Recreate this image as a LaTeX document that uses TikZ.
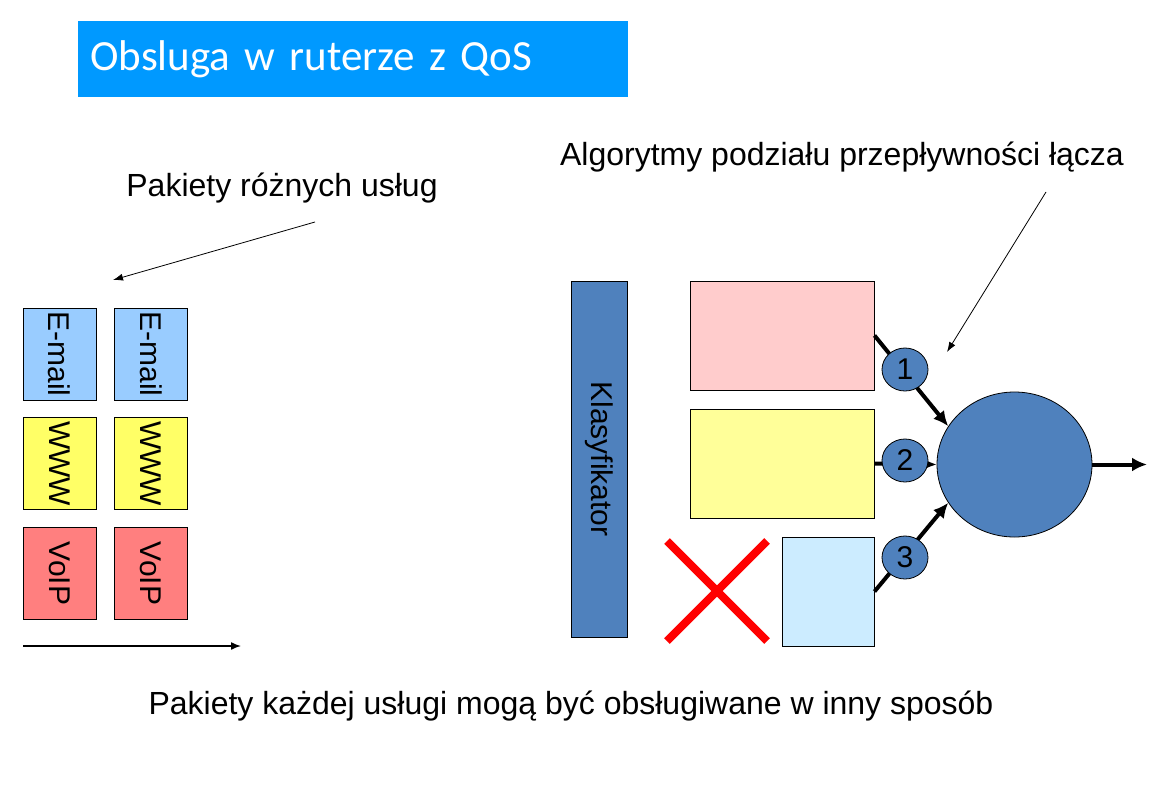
\documentclass[tikz,border=0pt]{standalone}
\usepackage{fontspec}
\setmainfont{Liberation Sans}
\newfontfamily\titlefont[WordSpace=0.8]{Carlito}
\usetikzlibrary{arrows.meta,shapes.geometric,shapes.misc}

\definecolor{titleblue}{HTML}{0099FF}
\definecolor{qosblue}{HTML}{4F81BD}
\definecolor{emailc}{HTML}{99CCFF}
\definecolor{wwwc}{HTML}{FFFF66}
\definecolor{voipc}{HTML}{FF7F7F}
\definecolor{pinkq}{HTML}{FFCCCC}
\definecolor{yellowq}{HTML}{FFFF99}
\definecolor{lightq}{HTML}{CCECFF}

\tikzset{
  pkt/.style={draw,line width=1pt,rotate=-90,minimum width=92pt,minimum height=73pt,
    inner sep=0pt,font=\fontsize{30}{32}\selectfont},
  kolejka/.style={draw,line width=1pt,inner sep=0pt,minimum height=109pt},
  waga/.style={draw,ellipse,line width=0.8pt,fill=qosblue,minimum width=46pt,
    minimum height=43pt,inner sep=0pt,font=\fontsize{30}{32}\selectfont},
  gruba/.style={line width=4pt,-{Latex[length=15pt,width=14pt]}},
  cienka/.style={line width=0.8pt,-{Latex[length=10pt,width=7pt]}},
  opis/.style={font=\fontsize{32}{35}\selectfont},
}

\begin{document}
\begin{tikzpicture}[x=1pt,y=-1pt]
\useasboundingbox (0,0) rectangle (1149,809);
% title
\node[fill=titleblue,anchor=north west,text width=526pt,minimum height=76pt,inner xsep=12pt,
  text=white,font=\titlefont\fontsize{43}{47}\selectfont] (tytul) at (78,21) {Obsluga w ruterze z QoS};
% packets of different services
\node[opis] (pakiety) at (282,188) {Pakiety różnych usług};
\coordinate (p0) at (315,222);
\coordinate (p1) at (113,280);
\draw[cienka] (p0) -- (p1);
\foreach \k/\x in {a/59.5,b/151} {
  \node[pkt,fill=emailc] (email\k) at (\x,354) {E-mail};
  \node[pkt,fill=wwwc] (www\k) at (\x,463.5) {WWW};
  \node[pkt,fill=voipc] (voip\k) at (\x,573.5) {VoIP};
}
\coordinate (os0) at (23,646);
\coordinate (os1) at (241,646);
\draw[line width=1.5pt,-{Latex[length=10pt,width=8pt]}] (os0) -- (os1);
% router
\node[draw,line width=1pt,fill=qosblue,rotate=-90,minimum width=356pt,minimum height=56pt,
  inner sep=0pt,font=\fontsize{30}{32}\selectfont] (klas) at (599,459) {Klasyfikator};
\node[kolejka,fill=pinkq,minimum width=184pt] (q1) at (782,335.5) {};
\node[kolejka,fill=yellowq,minimum width=184pt] (q2) at (782,463.5) {};
\node[kolejka,fill=lightq,minimum width=92pt] (q3) at (828,591.5) {};
\node[cross out,draw=red,line width=8pt,minimum width=92pt,minimum height=92pt,inner sep=0pt] (odrzut) at (717,591) {};
\node[draw,ellipse,line width=0.8pt,fill=qosblue,minimum width=155pt,minimum height=145pt,inner sep=0pt] (sched) at (1014.5,464.5) {};
\draw[gruba] (q1.east) -- (sched.150);
\draw[gruba] (q2.east) -- (sched.west);
\draw[gruba] (q3.east) -- (sched.210);
\node[waga] (w1) at (905,369.5) {1};
\node[waga] (w2) at (905,460.5) {2};
\node[waga] (w3) at (905,557.5) {3};
\coordinate (wyj) at (1147,464.5);
\draw[gruba] (sched.east) -- (wyj);
% bandwidth sharing
\node[opis] (algorytmy) at (842,157) {Algorytmy podziału przepływności łącza};
\coordinate (a0) at (1046,192);
\coordinate (a1) at (947,352);
\draw[cienka] (a0) -- (a1);
\node[opis] (uwaga) at (571,706) {Pakiety każdej usługi mogą być obsługiwane w inny sposób};
\end{tikzpicture}
\end{document}
